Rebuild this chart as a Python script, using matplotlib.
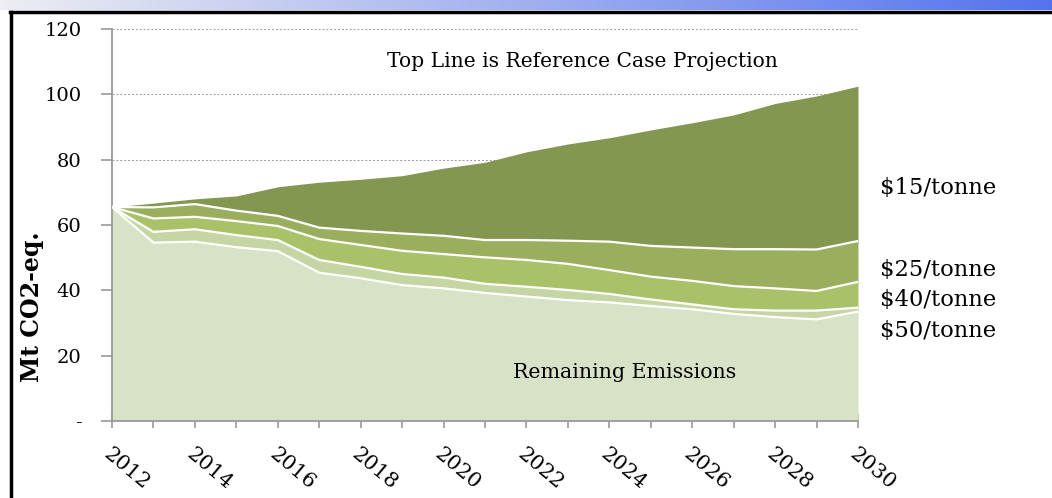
import numpy as np
import matplotlib.pyplot as plt
from matplotlib.lines import Line2D

plt.rcParams['font.family'] = 'DejaVu Serif'

# Emissions pathways, Mt CO2-eq.
years = np.arange(2012, 2031)
reference = [65.5, 66.7, 68.0, 68.9, 71.7, 73.1, 74.0, 75.1, 77.4, 79.2,
             82.4, 84.8, 86.7, 89.1, 91.3, 93.7, 97.2, 99.5, 102.5]
at_15 = [65.5, 65.4, 66.4, 64.4, 62.8, 59.2, 58.2, 57.4, 56.7, 55.4,
         55.4, 55.2, 54.9, 53.6, 53.1, 52.6, 52.6, 52.5, 55.1]
at_25 = [65.5, 62.0, 62.5, 61.2, 59.7, 55.7, 53.9, 52.1, 51.1, 50.1,
         49.3, 48.1, 46.2, 44.2, 42.9, 41.3, 40.6, 39.8, 42.6]
at_40 = [65.5, 57.9, 58.7, 56.9, 55.4, 49.3, 47.2, 45.0, 43.9, 42.0,
         41.1, 40.1, 38.9, 37.2, 35.7, 34.2, 33.8, 33.8, 34.7]
at_50 = [65.5, 54.6, 54.9, 53.2, 52.0, 45.4, 43.7, 41.6, 40.6, 39.2,
         38.1, 37.0, 36.3, 35.2, 34.2, 32.8, 31.8, 31.1, 33.5]

price_labels = ['$15/tonne', '$25/tonne', '$40/tonne', '$50/tonne']
layer_colors = ['#849750', '#9bae5e', '#a9c26a', '#c5d6a4']
remaining_color = '#d8e2c6'

W, H = 1052, 498
fig = plt.figure(figsize=(W / 100, H / 100), dpi=100)

# slide header band and frame
band = fig.add_axes([0, 1 - 10 / H, 1, 10 / H])
grad = np.linspace(0, 1, 256)[None, :, None]
c0 = np.array([0.93, 0.93, 0.95])
c1 = np.array([0.33, 0.45, 0.93])
band.imshow(c0 + (c1 - c0) * grad, aspect='auto', extent=[0, 1, 0, 1])
band.axis('off')
fig.add_artist(Line2D([10 / W, 1], [1 - 12.5 / H, 1 - 12.5 / H], color='black', lw=2.5,
                      transform=fig.transFigure))
fig.add_artist(Line2D([11 / W, 11 / W], [0, 1 - 12.5 / H], color='black', lw=2.5,
                      transform=fig.transFigure))

ax = fig.add_axes([112 / W, 1 - 421 / H, (858 - 112) / W, (421 - 29) / H])

bounds = [reference, at_15, at_25, at_40, at_50]
for i, col in enumerate(layer_colors):
    ax.fill_between(years, bounds[i + 1], bounds[i], color=col, lw=0, zorder=2)
ax.fill_between(years, 0, at_50, color=remaining_color, lw=0, zorder=2)
for b in bounds[1:]:
    ax.plot(years, b, color='white', lw=1.6, zorder=3)

ax.set_xlim(2012, 2030)
ax.set_ylim(0, 120)
ax.set_yticks(range(0, 121, 20))
ax.set_yticklabels(['-'] + [str(v) for v in range(20, 121, 20)])
ax.set_xticks(years)
ax.set_xticklabels([str(y) if y % 2 == 0 else '' for y in years],
                   rotation=-40, ha='left', va='top', rotation_mode='anchor')
ax.grid(axis='y', color='#999999', ls=(0, (2, 2)), lw=0.7, zorder=1)
for s in ['top', 'right']:
    ax.spines[s].set_visible(False)
for s in ['left', 'bottom']:
    ax.spines[s].set_color('#999999')
    ax.spines[s].set_linewidth(1.3)
ax.tick_params(axis='y', direction='out', length=8, color='#999999', width=1.2,
               labelsize=14, pad=14)
ax.tick_params(axis='x', direction='inout', length=10, color='#999999', width=1.2,
               labelsize=15, pad=12)

ax.text(2023.34, 109.9, 'Top Line is Reference Case Projection',
        ha='center', va='center', fontsize=14.6)
ax.text(2024.38, 14.7, 'Remaining Emissions', ha='center', va='center', fontsize=14.8)

for lab, yp in zip(price_labels, [188, 270, 300, 331]):
    fig.text(880 / W, 1 - yp / H, lab, ha='left', va='center', fontsize=16.3)

fig.text(32 / W, 1 - 307 / H, 'Mt CO2-eq.', rotation=90, ha='center', va='center',
         fontsize=17, fontweight='bold')

fig.savefig('out.png', dpi=100)
